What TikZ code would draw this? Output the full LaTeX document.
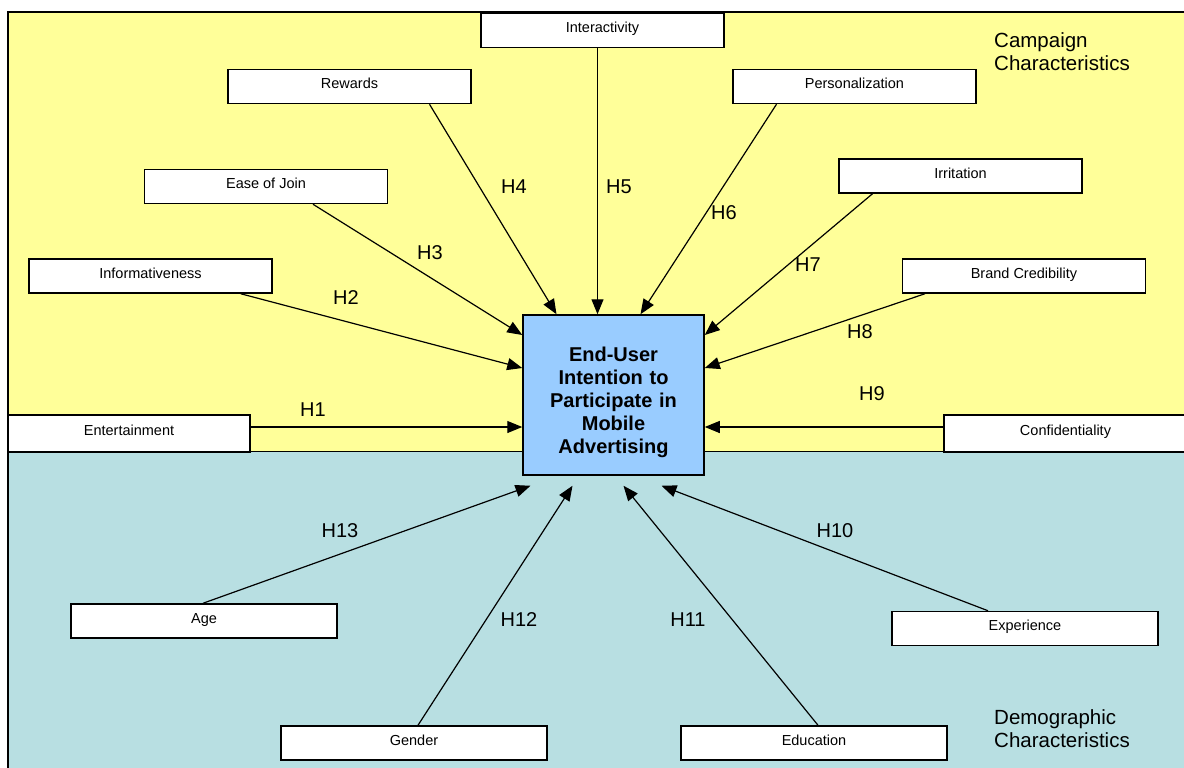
\documentclass[tikz,border=0pt]{standalone}
\usepackage{fontspec}
\setmainfont{Liberation Sans}
\usepackage{tikz}
\usetikzlibrary{positioning}
\usetikzlibrary{arrows.meta}
\usepackage{xcolor}
\definecolor{campaignbg}{RGB}{255,255,153}
\definecolor{demobg}{RGB}{184,223,226}
\definecolor{intentbg}{RGB}{153,204,255}
\tikzset{
    factor/.style={draw, fill=white, line width=1.5pt, minimum width=243pt, minimum height=34pt,
        inner sep=0pt, text height=10.5pt, text depth=6pt, font=\fontsize{14.5}{17}\selectfont},
    hyp/.style={font=\fontsize{20}{23}\selectfont, inner sep=0pt},
    group/.style={font=\fontsize{20.5}{23.5}\selectfont, align=left, inner sep=0pt, anchor=north west}
}

\begin{document}
\begin{tikzpicture}[x=1pt, y=-1pt, >={Triangle[length=15pt, width=12pt]}]
    \clip (0,0) rectangle (1184,768);
    \fill[white] (0,0) rectangle (1184,768);
    \draw[fill=campaignbg, line width=1.6pt] (8,12) rectangle (1200,452);
    \fill[demobg] (8,452) rectangle (1200,780);
    \draw[line width=1.6pt] (8,452) -- (8,780);
    \node[draw, fill=intentbg, line width=1.5pt, minimum width=181pt, minimum height=160pt, text width=170pt,
        align=center, inner sep=0pt, font=\fontsize{20}{23}\selectfont\bfseries] (main) at (613.5,395)
        {\rule{0pt}{30pt}End-User\\Intention to\\Participate in\\Mobile\\Advertising};
    \node[factor] (inter) at (602.5,30.5) {Interactivity};
    \node[factor] (rew) at (349.5,86.5) {Rewards};
    \node[factor] (pers) at (854.5,86.5) {Personalization};
    \node[factor] (ease) at (266,186.5) {Ease of Join};
    \node[factor] (irr) at (960.5,176) {Irritation};
    \node[factor] (info) at (150.5,276) {Informativeness};
    \node[factor] (brand) at (1024,276) {Brand Credibility};
    \node[factor, minimum width=242pt, minimum height=37pt] (ent) at (129,433.5) {Entertainment};
    \node[factor, minimum height=37pt] (conf) at (1065.5,433.5) {Confidentiality};
    \node[factor, minimum width=266pt] (age) at (204,621) {Age};
    \node[factor, minimum width=266pt] (exp) at (1025,628.5) {Experience};
    \node[factor, minimum width=266pt] (gen) at (414,743) {Gender};
    \node[factor, minimum width=266pt] (edu) at (814,743) {Education};
    \node[group] (camp) at (994,32) {Campaign\\Characteristics};
    \node[group] (demo) at (994,709) {Demographic\\Characteristics};
    \coordinate (top) at ([xshift=-16pt]main.north);
    \draw[->, line width=1.2pt] (ent.east |- 0,427) -- (main.west |- 0,427);
    \draw[->, line width=1.2pt] ([xshift=-32pt]info.south east) -- ([yshift=27pt]main.west);
    \draw[->, line width=1.2pt] ([xshift=47pt]ease.south) -- ([yshift=60pt]main.west);
    \draw[->, line width=1.2pt] ([xshift=80pt]rew.south) -- ([xshift=-57pt]main.north);
    \draw[->, line width=1.2pt] (top |- inter.south) -- (top);
    \draw[->, line width=1.2pt] ([xshift=-78pt]pers.south) -- ([xshift=27pt]main.north);
    \draw[->, line width=1.2pt] ([xshift=-88pt]irr.south) -- ([yshift=60pt]main.east);
    \draw[->, line width=1.2pt] ([xshift=-99pt]brand.south) -- ([yshift=27pt]main.east);
    \draw[->, line width=1.2pt] (conf.west |- 0,427) -- (main.east |- 0,427);
    \draw[->, line width=1.2pt] ([xshift=-37pt]exp.north) -- ([xshift=48pt, yshift=-10pt]main.south);
    \draw[->, line width=1.2pt] ([xshift=4pt]edu.north) -- ([xshift=10pt, yshift=-10pt]main.south);
    \draw[->, line width=1.2pt] ([xshift=4pt]gen.north) -- ([xshift=-41pt, yshift=-10pt]main.south);
    \draw[->, line width=1.2pt] ([xshift=-1pt]age.north) -- ([xshift=-83pt, yshift=-10pt]main.south);
    \node[hyp] (h1) at (313,410) {H1};
    \node[hyp] (h2) at (346,298) {H2};
    \node[hyp] (h3) at (430,253) {H3};
    \node[hyp] (h4) at (514,187) {H4};
    \node[hyp] (h5) at (619,187) {H5};
    \node[hyp] (h6) at (724,213) {H6};
    \node[hyp] (h7) at (808,265) {H7};
    \node[hyp] (h8) at (860,332) {H8};
    \node[hyp] (h9) at (872,394) {H9};
    \node[hyp] (h10) at (835,531) {H10};
    \node[hyp] (h11) at (688,620) {H11};
    \node[hyp] (h12) at (519,620) {H12};
    \node[hyp] (h13) at (340,531) {H13};
\end{tikzpicture}
\end{document}
